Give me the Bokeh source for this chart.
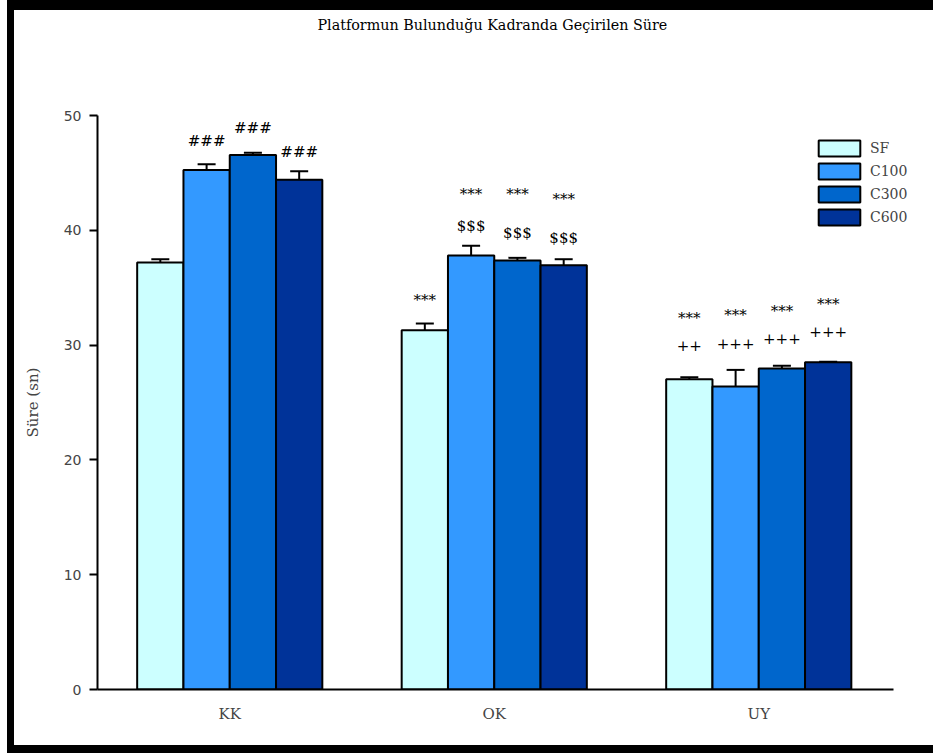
from bokeh.plotting import figure
from bokeh.models import (ColumnDataSource, Whisker, TeeHead, Legend, LegendItem,
                          FixedTicker, Title)
from bokeh.core.properties import value
from bokeh.embed import file_html
from bokeh.resources import INLINE

# --- data -------------------------------------------------------------
groups = ["KK", "OK", "UY"]
series = ["SF", "C100", "C300", "C600"]
colors = ["#CCFFFF", "#3399FF", "#0066CC", "#003399"]

sf = [37.2, 31.3, 27.03]
c100 = [45.25, 37.8, 26.39]
c300 = [46.55, 37.37, 27.96]
c600 = [44.4, 36.96, 28.5]

sf_err = [0.27, 0.58, 0.17]
c100_err = [0.5, 0.85, 1.45]
c300_err = [0.2, 0.23, 0.24]
c600_err = [0.75, 0.52, 0.05]

y_ticks = [0, 10, 20, 30, 40, 50]

# significance marks above the bars
mark_group = [0, 0, 0, 1, 1, 1, 1, 1, 1, 1, 2, 2, 2, 2, 2, 2, 2, 2]
mark_series = [1, 2, 3, 0, 1, 1, 2, 2, 3, 3, 0, 0, 1, 1, 2, 2, 3, 3]
mark_text = ["###", "###", "###",
             "***", "***", "$$$", "***", "$$$", "***", "$$$",
             "***", "++", "***", "+++", "***", "+++", "***", "+++"]
mark_y = [47.8, 48.9, 46.8,
          33.9, 43.2, 40.4, 43.2, 39.8, 42.7, 39.3,
          32.4, 30.0, 32.6, 30.1, 33.0, 30.6, 33.6, 31.2]

values = [sf, c100, c300, c600]
errors = [sf_err, c100_err, c300_err, c600_err]

# --- layout helpers ---------------------------------------------------
bar_w = 0.175
offsets = [(i - 1.5) * bar_w for i in range(len(series))]
x_lo, x_axis_hi, x_hi = -0.5, 2.5095, 2.6304
SERIF = "DejaVu Serif"
SANS = "DejaVu Sans"

p = figure(frame_width=828, frame_height=574,
           x_range=(x_lo, x_hi), y_range=(0, 50),
           output_backend="svg", toolbar_location=None,
           min_border_left=83, min_border_right=8,
           min_border_top=105, min_border_bottom=56,
           title="Platformun Bulunduğu Kadranda Geçirilen Süre")
p.styles = {"box-sizing": "content-box", "margin-left": "7px",
            "border-left": "7px solid black",
            "border-top": "10px solid black", "border-bottom": "8px solid black",
            "background-color": "white"}

p.title.align = "left"
p.title.offset = 220
p.title.standoff = 0
p.title.text_font = SERIF
p.title.text_font_size = "14.3px"
p.title.text_font_style = "normal"
p.title.text_color = "black"

# blank band between the title and the plotting area
p.add_layout(Title(text=" ", standoff=65, text_font_size="14px"), "above")

p.grid.visible = False
p.outline_line_color = None
p.background_fill_color = "white"
p.border_fill_color = "white"

legend_items = []
for i, name in enumerate(series):
    src = ColumnDataSource(dict(
        x=[g + offsets[i] for g in range(len(groups))],
        top=values[i],
        upper=[v + e for v, e in zip(values[i], errors[i])],
    ))
    r = p.vbar(x="x", top="top", width=bar_w, source=src,
               fill_color=colors[i], line_color="black", line_width=2)
    p.add_layout(Whisker(source=src, base="x", lower="top", upper="upper",
                         line_color="black", line_width=2, lower_head=None,
                         upper_head=TeeHead(size=18, line_color="black",
                                            line_width=2)))
    legend_items.append(LegendItem(label=name, renderers=[r]))

mark_src = ColumnDataSource(dict(
    x=[g + offsets[s] for g, s in zip(mark_group, mark_series)],
    y=mark_y, text=mark_text))
p.text(x="x", y="y", text="text", source=mark_src, text_align="center",
       text_baseline="middle", text_font=value(SERIF), text_font_size="15px",
       text_color="black")

legend = Legend(items=legend_items, location=(716, 462),
                glyph_width=52, glyph_height=20, label_height=20,
                spacing=3, label_standoff=5, padding=0, margin=0,
                border_line_color=None, background_fill_alpha=0,
                label_text_font=SERIF, label_text_font_size="14px")
p.add_layout(legend)

# axes
p.yaxis.ticker = FixedTicker(ticks=y_ticks)
p.yaxis.minor_tick_line_color = None
p.yaxis.major_tick_out = 8
p.yaxis.major_tick_in = 0
p.yaxis.major_tick_line_width = 2
p.yaxis.axis_line_width = 2
p.yaxis.major_label_standoff = 8
p.yaxis.major_label_text_font = SANS
p.yaxis.major_label_text_font_size = "14px"
p.yaxis.axis_label = "Süre (sn)"
p.yaxis.axis_label_text_font = SERIF
p.yaxis.axis_label_text_font_size = "15px"
p.yaxis.axis_label_text_font_style = "normal"
p.yaxis.axis_label_standoff = 19

p.xaxis.ticker = FixedTicker(ticks=list(range(len(groups))))
p.xaxis.bounds = (x_lo, x_axis_hi)
p.xaxis.major_label_overrides = {i: g for i, g in enumerate(groups)}
p.xaxis.major_tick_line_color = None
p.xaxis.minor_tick_line_color = None
p.xaxis.axis_line_width = 2
p.xaxis.major_label_standoff = 9
p.xaxis.major_label_text_font = SERIF
p.xaxis.major_label_text_font_size = "15px"

open("out.html", "w").write(file_html(p, INLINE))
